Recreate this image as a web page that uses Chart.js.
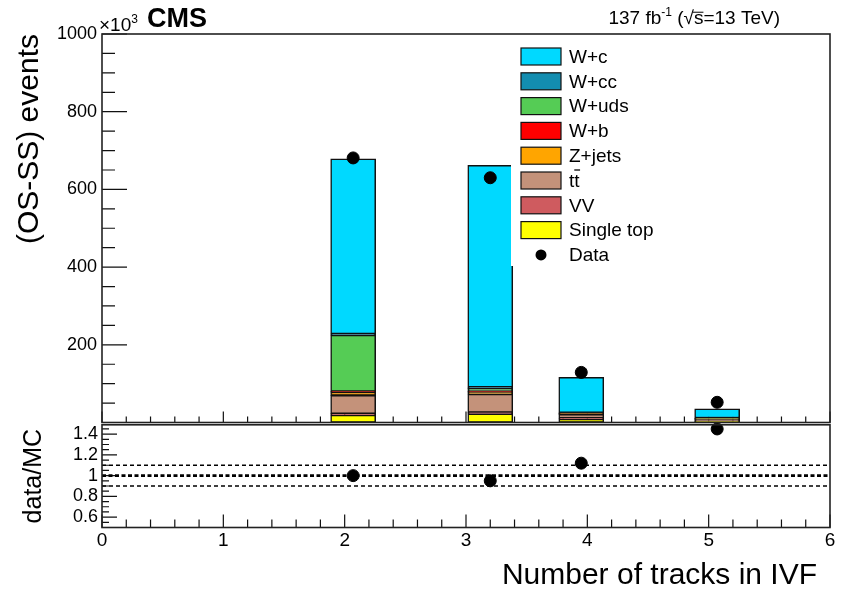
<!DOCTYPE html>
<html>
<head>
<meta charset="utf-8">
<script src="https://cdn.jsdelivr.net/npm/chart.js@4.4.1/dist/chart.umd.min.js"></script>
<style>
  html, body { margin: 0; padding: 0; background: #fff; }
  #wrap { position: relative; width: 843px; height: 589px; overflow: hidden; background: #fff; }
  canvas { position: absolute; left: 0; }
  #ratio { top: 410px; }
  #main { top: 0; }
</style>
</head>
<body>
<div id="wrap">
  <canvas id="ratio" width="843" height="179"></canvas>
  <canvas id="main" width="843" height="440"></canvas>
</div>
<script>
const FONT = "'Liberation Sans', Arial, Helvetica, sans-serif";

// Bin positions on the "Number of tracks in IVF" axis
const binCentres = [2.07, 3.20, 3.95, 5.07];

// Simulated contributions (x10^3 events), listed bottom of the stack first
const singleTop = [19, 22, 9, 3];
const vv        = [4, 4, 2, 1];
const ttbar     = [47, 47, 10, 4];
const zJets     = [8, 5, 1, 1];
const wB        = [2, 2, 1, 0.5];
const wUds      = [145, 8, 1, 1];
const wCC       = [3, 3, 1, 1];
const wC        = [451, 571, 91, 24];

// Observed data (x10^3 events) and data/MC ratio
const dataCounts = [681, 630, 129, 52];
const dataOverMC = [1.00, 0.95, 1.12, 1.45];

// Axis tick labels
const xTickLabels = [0, 1, 2, 3, 4, 5, 6];
const yTickLabels = [200, 400, 600, 800, 1000];
const ratioTickLabels = [0.6, 0.8, 1, 1.2, 1.4];
const ratioRefLines = [0.9, 1.0, 1.1];

const series = [
  { label: 'Single top', values: singleTop, color: '#ffff00' },
  { label: 'VV',         values: vv,        color: '#cf5b5f' },
  { label: 'tt\u0304',   values: ttbar,     color: '#c4927a' },
  { label: 'Z+jets',     values: zJets,     color: '#ffa500' },
  { label: 'W+b',        values: wB,        color: '#ff0000' },
  { label: 'W+uds',      values: wUds,      color: '#55cc55' },
  { label: 'W+cc',       values: wCC,       color: '#138db0' },
  { label: 'W+c',        values: wC,        color: '#00d9ff' }
];

const toPoints = (vals) => vals.map((v, i) => ({ x: binCentres[i], y: v }));

function setTicks(values) {
  return (scale) => { scale.ticks = values.map(v => ({ value: v })); };
}

// ROOT-style inward tick marks
function drawTicks(chart, o) {
  const { ctx, chartArea: a, scales } = chart;
  const xs = scales.x, ys = scales[o.yId];
  ctx.save();
  ctx.strokeStyle = '#111';
  ctx.lineWidth = 1.2;
  ctx.beginPath();
  for (let i = 0; ; i++) {
    const v = o.yStart + i * o.yMinor;
    if (v > o.yEnd + 1e-9) break;
    const py = ys.getPixelForValue(v);
    if (py < a.top - 0.5 || py > a.bottom + 0.5) continue;
    const len = o.isMajorY(v) ? o.yMajLen : o.yMinLen;
    ctx.moveTo(a.left, py); ctx.lineTo(a.left + len, py);
  }
  for (let i = 0; i <= 30; i++) {
    const v = i * 0.2;
    const px = xs.getPixelForValue(v);
    const len = (i % 5 === 0) ? o.xMajLen : o.xMinLen;
    ctx.moveTo(px, a.bottom); ctx.lineTo(px, a.bottom - len);
  }
  ctx.stroke();
  ctx.restore();
}

function drawFrame(chart) {
  const { ctx, chartArea: a } = chart;
  ctx.save();
  ctx.strokeStyle = '#222';
  ctx.lineWidth = 1.6;
  ctx.strokeRect(a.left, a.top, a.right - a.left, a.bottom - a.top);
  ctx.restore();
}

function supText(ctx, parts, x, y, align) {
  let total = 0;
  parts.forEach(p => {
    ctx.font = (p.bold ? 'bold ' : '') + p.size + 'px ' + FONT;
    p.w = ctx.measureText(p.t).width;
    total += p.w;
  });
  let cx = align === 'right' ? x - total : x;
  ctx.textAlign = 'left';
  ctx.textBaseline = 'alphabetic';
  parts.forEach(p => {
    ctx.font = (p.bold ? 'bold ' : '') + p.size + 'px ' + FONT;
    ctx.fillText(p.t, cx, y + (p.dy || 0));
    if (p.overline) {
      ctx.beginPath();
      ctx.lineWidth = 1;
      ctx.moveTo(cx - 1, y - p.size * 0.62);
      ctx.lineTo(cx + p.w, y - p.size * 0.62);
      ctx.stroke();
    }
    cx += p.w;
  });
}

const mainDecor = {
  id: 'mainDecor',
  beforeDatasetsDraw(chart) {
    drawTicks(chart, {
      yId: 'y', yStart: 0, yEnd: 1000, yMinor: 50,
      isMajorY: v => Math.round(v) % 200 === 0,
      yMajLen: 25, yMinLen: 13, xMajLen: 11, xMinLen: 6
    });
  },
  afterDatasetsDraw(chart) {
    const { ctx } = chart;
    const legX = 521, legTop = 56.5, rowH = 24.8;
    ctx.save();
    // legend panel
    ctx.fillStyle = '#fff';
    ctx.fillRect(511, 42, 190, 224);
    const entries = series.slice().reverse();
    ctx.textBaseline = 'middle';
    ctx.textAlign = 'left';
    ctx.font = '19px ' + FONT;
    entries.forEach((s, i) => {
      const cy = legTop + i * rowH;
      ctx.fillStyle = s.color;
      ctx.fillRect(legX, cy - 8.5, 40, 17);
      ctx.strokeStyle = '#111';
      ctx.lineWidth = 1.2;
      ctx.strokeRect(legX, cy - 8.5, 40, 17);
      ctx.fillStyle = '#000';
      if (s.label === 'tt\u0304') {
        ctx.fillText('tt', 569, cy + 1);
        const w1 = ctx.measureText('t').width;
        const w2 = ctx.measureText('tt').width;
        ctx.beginPath();
        ctx.strokeStyle = '#000';
        ctx.lineWidth = 1.3;
        ctx.moveTo(569 + w1, cy - 10.5);
        ctx.lineTo(569 + w2 + 0.5, cy - 10.5);
        ctx.stroke();
      } else {
        ctx.fillText(s.label, 569, cy + 1);
      }
    });
    const dy = legTop + entries.length * rowH;
    ctx.fillStyle = '#000';
    ctx.beginPath();
    ctx.arc(legX + 20, dy, 5.5, 0, Math.PI * 2);
    ctx.fill();
    ctx.fillText('Data', 569, dy + 1);
    ctx.restore();
  },
  afterDraw(chart) {
    const { ctx } = chart;
    drawFrame(chart);
    ctx.save();
    ctx.fillStyle = '#000';
    ctx.strokeStyle = '#000';
    supText(ctx, [
      { t: '\u00d710', size: 19 },
      { t: '3', size: 12, dy: -8 }
    ], 99, 31, 'left');
    supText(ctx, [{ t: 'CMS', size: 27, bold: true }], 147, 27, 'left');
    supText(ctx, [
      { t: '137 fb', size: 19 },
      { t: '-1', size: 12, dy: -8 },
      { t: ' (\u221a', size: 19 },
      { t: 's', size: 19, overline: true },
      { t: '=13 TeV)', size: 19 }
    ], 780, 24, 'right');
    ctx.restore();
  }
};

const ratioDecor = {
  id: 'ratioDecor',
  beforeDatasetsDraw(chart) {
    const { ctx, chartArea: a, scales } = chart;
    drawTicks(chart, {
      yId: 'y', yStart: 0.5, yEnd: 1.49, yMinor: 0.05,
      isMajorY: v => Math.round(v * 100) % 20 === 0,
      yMajLen: 15, yMinLen: 7, xMajLen: 13, xMinLen: 8
    });
    ctx.save();
    ctx.strokeStyle = '#000';
    ratioRefLines.forEach(v => {
      const py = scales.y.getPixelForValue(v);
      const central = Math.abs(v - 1) < 1e-9;
      ctx.lineWidth = central ? 2.6 : 1.5;
      ctx.setLineDash(central ? [4, 2.5] : [4, 3]);
      ctx.beginPath();
      ctx.moveTo(a.left, py);
      ctx.lineTo(a.right, py);
      ctx.stroke();
    });
    ctx.restore();
  },
  afterDraw(chart) {
    const { ctx } = chart;
    drawFrame(chart);
    ctx.save();
    ctx.fillStyle = '#000';
    ctx.font = '30px ' + FONT;
    ctx.textAlign = 'right';
    ctx.textBaseline = 'alphabetic';
    ctx.fillText('Number of tracks in IVF', 817, 174);
    ctx.restore();
  }
};

const barDatasets = series.map(s => ({
  type: 'bar',
  label: s.label,
  data: toPoints(s.values),
  backgroundColor: s.color,
  borderColor: '#111',
  borderWidth: 1.5,
  borderSkipped: false,
  barThickness: 45,
  stack: 'mc',
  yAxisID: 'y',
  order: 1
}));

new Chart(document.getElementById('main'), {
  type: 'bar',
  data: {
    datasets: [
      {
        type: 'scatter',
        label: 'Data',
        data: toPoints(dataCounts),
        backgroundColor: '#000',
        borderColor: '#000',
        pointRadius: 6,
        pointHoverRadius: 6,
        yAxisID: 'yd',
        order: 0
      },
      ...barDatasets
    ]
  },
  options: {
    responsive: false,
    animation: false,
    devicePixelRatio: 1,
    layout: { padding: { left: 0, right: 13, top: 34, bottom: 17.5 } },
    plugins: { legend: { display: false }, tooltip: { enabled: false } },
    scales: {
      x: {
        type: 'linear', min: 0, max: 6, offset: false, stacked: true,
        display: false
      },
      y: {
        type: 'linear', min: 0, max: 1000, stacked: true,
        afterFit: (s) => { s.width = 102; },
        afterBuildTicks: setTicks(yTickLabels),
        grid: { display: false, drawTicks: false },
        border: { display: false },
        ticks: {
          color: '#000', padding: 5,
          font: { family: FONT, size: 18 },
          callback: (v) => String(v)
        },
        title: {
          display: true, text: '(OS-SS) events', align: 'end',
          color: '#000', font: { family: FONT, size: 30 },
          padding: { top: 12, bottom: 0 }
        }
      },
      yd: { type: 'linear', min: 0, max: 1000, display: false }
    }
  },
  plugins: [mainDecor]
});

new Chart(document.getElementById('ratio'), {
  type: 'scatter',
  data: {
    datasets: [{
      label: 'data/MC',
      data: binCentres.map((x, i) => ({ x: x, y: dataOverMC[i] })),
      backgroundColor: '#000',
      borderColor: '#000',
      pointRadius: 6,
      pointHoverRadius: 6,
      clip: false
    }]
  },
  options: {
    responsive: false,
    animation: false,
    devicePixelRatio: 1,
    layout: { padding: { left: 0, right: 13, top: 12.5, bottom: 31.5 } },
    plugins: { legend: { display: false }, tooltip: { enabled: false } },
    scales: {
      x: {
        type: 'linear', min: 0, max: 6,
        afterFit: (s) => { s.height = 30; },
        afterBuildTicks: setTicks(xTickLabels),
        grid: { display: false, drawTicks: false },
        border: { display: false },
        ticks: {
          color: '#000', padding: 2, maxRotation: 0, autoSkip: false,
          font: { family: FONT, size: 19 },
          callback: (v) => String(v)
        }
      },
      y: {
        type: 'linear', min: 0.5, max: 1.49,
        afterFit: (s) => { s.width = 102; },
        afterBuildTicks: setTicks(ratioTickLabels),
        grid: { display: false, drawTicks: false },
        border: { display: false },
        ticks: {
          color: '#000', padding: 4, autoSkip: false,
          font: { family: FONT, size: 18 },
          callback: (v) => String(Math.round(v * 10) / 10)
        },
        title: {
          display: true, text: 'data/MC', align: 'center',
          color: '#000', font: { family: FONT, size: 25 },
          padding: { top: 19, bottom: 0 }
        }
      }
    }
  },
  plugins: [ratioDecor]
});
</script>
</body>
</html>
